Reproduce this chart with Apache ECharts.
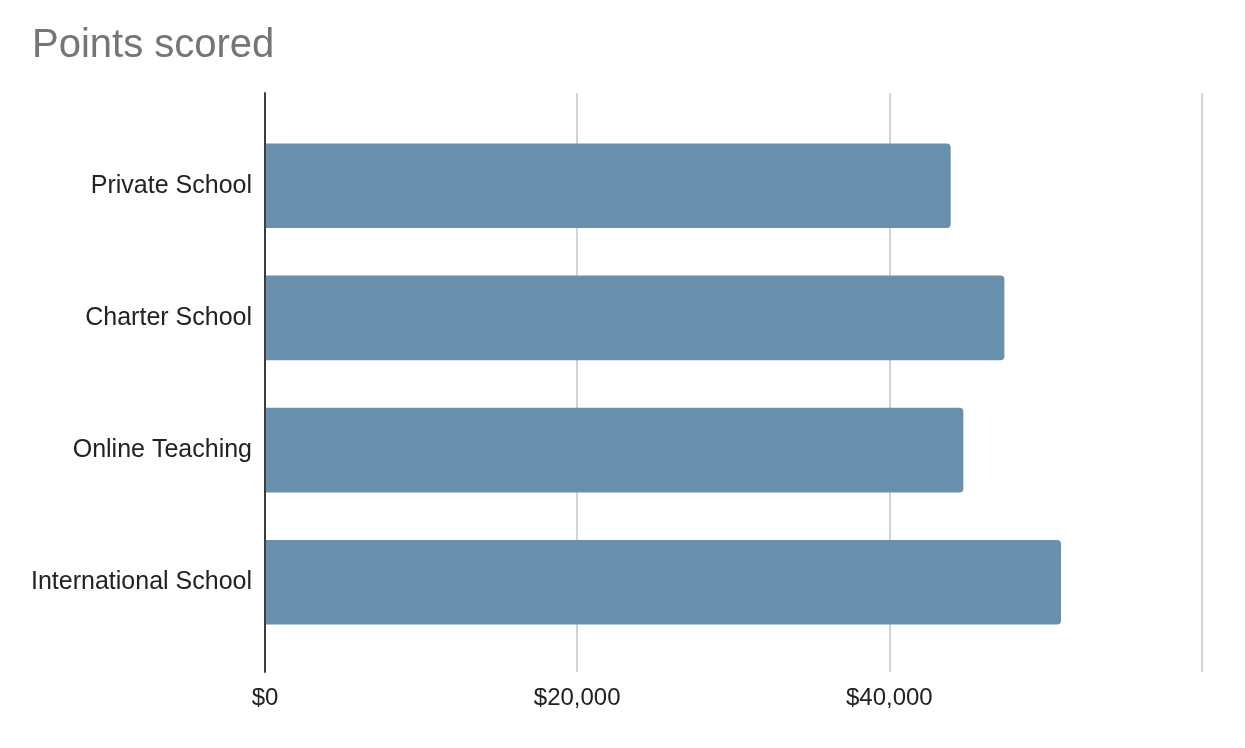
<!DOCTYPE html>
<html>
<head>
<meta charset="utf-8">
<script src="https://cdn.jsdelivr.net/npm/echarts@6/dist/echarts.min.js"></script>
<style>
html,body{margin:0;padding:0;background:#fff;}
#chart{width:1245px;height:748px;}
</style>
</head>
<body>
<div id="chart"></div>
<script>
const titleText = 'Points scored';
const categories = ['Private School', 'Charter School', 'Online Teaching', 'International School'];
const values = [43930, 47370, 44740, 51000];
const tickValues = [0, 20000, 40000, 60000];
const tickLabels = ['$0', '$20,000', '$40,000', ''];

const chart = echarts.init(document.getElementById('chart'), null, {renderer: 'canvas'});
const font = 'Liberation Sans, Arial, sans-serif';
chart.setOption({
  animation: false,
  backgroundColor: '#ffffff',
  title: {
    text: titleText,
    left: 27,
    top: 21,
    textStyle: {fontFamily: font, fontSize: 40, fontWeight: 'normal', color: '#757575'}
  },
  grid: [
    {left: 265, right: 43.5, top: 119.6, bottom: 99.6, containLabel: false},
    {left: 265, right: 43.5, top: 93, bottom: 76, containLabel: false}
  ],
  xAxis: [
    {
      gridIndex: 0, type: 'value', min: 0, max: 60000, interval: 20000,
      axisLine: {show: false}, axisTick: {show: false}, axisLabel: {show: false}, splitLine: {show: false}
    },
    {
      gridIndex: 1, type: 'value', min: 0, max: 60000, interval: 20000,
      axisLine: {show: false}, axisTick: {show: false},
      axisLabel: {
        show: true, margin: 14, showMaxLabel: false,
        fontFamily: font, fontSize: 24, color: '#222222',
        formatter: function (v) { const i = tickValues.indexOf(v); return i >= 0 ? tickLabels[i] : ''; }
      },
      splitLine: {show: true, lineStyle: {color: '#d3d3d3', width: 2}}
    }
  ],
  yAxis: [
    {
      gridIndex: 0, type: 'category', data: categories, inverse: true,
      axisLine: {show: false}, axisTick: {show: false},
      axisLabel: {margin: 13, fontFamily: font, fontSize: 25, color: '#222222'}
    },
    {
      gridIndex: 1, type: 'value', min: 0, max: 1, z: 5,
      axisLine: {show: true, lineStyle: {color: '#3c3c3c', width: 2}},
      axisTick: {show: false}, axisLabel: {show: false}, splitLine: {show: false}
    }
  ],
  series: [{
    type: 'bar',
    xAxisIndex: 0, yAxisIndex: 0,
    data: values,
    barCategoryGap: '36%',
    itemStyle: {color: '#688fab', borderRadius: [0, 4, 4, 0]}
  }]
});
</script>
</body>
</html>
